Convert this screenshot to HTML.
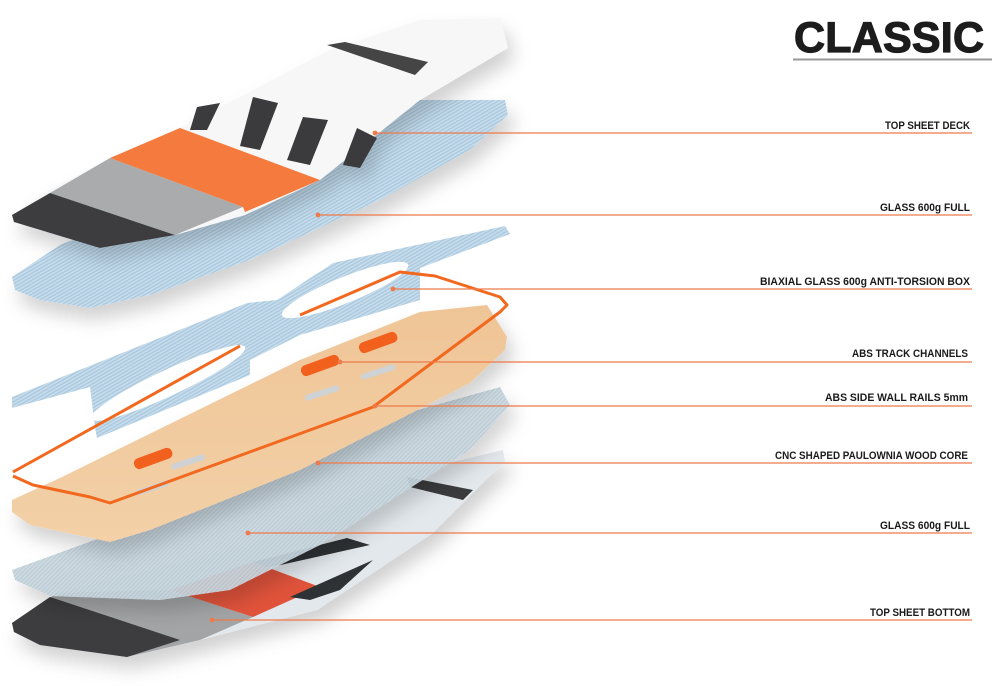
<!DOCTYPE html>
<html><head><meta charset="utf-8"><style>
body{margin:0;background:#fff;width:992px;height:688px;overflow:hidden;font-family:"Liberation Sans",sans-serif}
svg{position:absolute;left:0;top:0}
.l{font-family:"Liberation Sans Narrow","Liberation Sans",sans-serif;font-weight:bold;font-size:11px;fill:#1a1a1a}
</style></head><body>
<svg width="992" height="688" viewBox="0 0 992 688">
<defs>
<pattern id="hb" width="3" height="3" patternUnits="userSpaceOnUse" patternTransform="rotate(60)"><rect width="3" height="3" fill="#c6dceb"/><rect width="1.2" height="3" fill="#a8c7de"/></pattern>
<pattern id="hg" width="3" height="3" patternUnits="userSpaceOnUse" patternTransform="rotate(45)"><rect width="3" height="3" fill="#cad8e0"/><rect width="1.2" height="3" fill="#b8c8d2"/></pattern>
<linearGradient id="wd" x1="0" y1="0" x2="0" y2="1"><stop offset="0" stop-color="#efc597"/><stop offset="1" stop-color="#f3d0a7"/></linearGradient>
<filter id="sh" x="-10%" y="-10%" width="120%" height="140%"><feDropShadow dx="6" dy="12" stdDeviation="9" flood-color="#000" flood-opacity="0.18"/></filter>
</defs>
<!-- bottom board -->
<g filter="url(#sh)">
<polygon points="12,623 57,593 250,545 420,470 503,450 505,462 493,473 433,533 317,610 200,640 127,657 40,645 14,632" fill="#e2e8ec"/>
<polygon points="12,623 57,593 170,590 253,617 200,640 127,657 40,645 14,632" fill="#a2a4a6"/>
<polygon points="12,623 50,597 180,640 127,657 40,645 14,632" fill="#3c3d3f"/>
<polygon points="170,590 253,562 320,587 253,617" fill="#e0533a"/>
<polygon points="253,562 347,538 370,545 267,568" fill="#2e3236"/>
<polygon points="290,597 373,560 340,590 310,600" fill="#2e3236"/>
<polygon points="407,477 473,490 463,500 410,487" fill="#3a3b3d"/>
</g>
<!-- bottom glass -->
<g filter="url(#sh)">
<polygon points="12,570 150,520 400,415 500,387 510,405 470,450 320,545 230,590 160,600 50,596 15,580" fill="url(#hg)" opacity="0.93"/>
</g>
<!-- biaxial X -->
<g>
<polygon points="12,397 247,303 277,300 333,263 505,226 510,234 420,268 420,300 300,335 250,360 250,375 97,438 95,428 90,387 12,408" fill="url(#hb)"/>
<ellipse cx="168" cy="383" rx="85" ry="13" fill="#fff" transform="rotate(-25 168 383)"/>
<ellipse cx="345" cy="290" rx="68" ry="13" fill="#fff" transform="rotate(-22 345 290)"/>
</g>
<!-- wood -->
<g filter="url(#sh)">
<polygon points="12,500 60,478 133,442 300,360 420,312 487,305 507,337 505,350 470,383 300,470 150,530 110,542 30,525 12,512" fill="url(#wd)"/>
</g>
<rect x="133" y="453" width="40" height="11" rx="5" fill="#f2601e" transform="rotate(-20 153 458)"/>
<rect x="300" y="360" width="40" height="11" rx="5" fill="#f2601e" transform="rotate(-20 320 365)"/>
<rect x="358" y="337" width="40" height="11" rx="5" fill="#f2601e" transform="rotate(-20 378 342)"/>
<rect x="170" y="459" width="36" height="6" rx="3" fill="#cfd2d4" transform="rotate(-18 188 462)"/>
<rect x="135" y="485" width="34" height="6" rx="3" fill="#cfd2d4" transform="rotate(-18 152 488)"/>
<rect x="304" y="390" width="36" height="6" rx="3" fill="#cfd2d4" transform="rotate(-18 322 393)"/>
<rect x="360" y="369" width="36" height="6" rx="3" fill="#cfd2d4" transform="rotate(-18 378 372)"/>
<!-- orange frame -->
<path d="M13,472 L240,346 M300,315 L400,272 L435,276 L500,297 L507,305 L500,312 L373,407 L110,503 L90,497 L33,485 L13,476" fill="none" stroke="#f2681e" stroke-width="3" stroke-linejoin="round"/>
<!-- top glass -->
<g filter="url(#sh)">
<polygon points="12,277 60,245 420,100 505,100 508,115 470,150 380,200 250,260 150,295 90,308 40,300 15,290" fill="url(#hb)"/>
</g>
<!-- deck -->
<g filter="url(#sh)">
<polygon points="12,215 40,195 110,158 180,128 330,50 420,20 500,18 508,48 420,100 320,180 245,215 175,235 100,248 80,240 40,230 14,222" fill="#f7f7f7"/>
<polygon points="50,193 110,158 243,207 175,235" fill="#a9abad"/>
<polygon points="12,215 50,193 175,235 100,248 14,222" fill="#3c3d3f"/>
<polygon points="110,158 180,128 320,180 245,212 243,207" fill="#f47a3e"/>
<polygon points="197,107 220,103 207,130 190,130" fill="#3a3b3d"/>
<polygon points="253,97 278,103 260,150 240,146" fill="#3a3b3d"/>
<polygon points="303,117 328,120 310,165 287,160" fill="#3a3b3d"/>
<polygon points="357,128 377,138 360,168 343,165" fill="#3a3b3d"/>
<polygon points="327,45 345,42 428,62 415,75" fill="#444"/>
</g>
<!-- leaders -->
<g stroke="#ee7a4a" stroke-width="1.2" fill="#ee7a4a">
<line x1="375" y1="133" x2="972" y2="133"/><circle cx="375" cy="133" r="1.8"/>
<line x1="318" y1="215" x2="972" y2="215"/><circle cx="318" cy="215" r="1.8"/>
<line x1="393" y1="289" x2="972" y2="289"/><circle cx="393" cy="289" r="1.8"/>
<line x1="340" y1="362" x2="972" y2="362"/><circle cx="340" cy="362" r="1.8"/>
<line x1="375" y1="406" x2="972" y2="406"/><circle cx="375" cy="406" r="1.8"/>
<line x1="318" y1="463" x2="972" y2="463"/><circle cx="318" cy="463" r="1.8"/>
<line x1="248" y1="533" x2="972" y2="533"/><circle cx="248" cy="533" r="1.8"/>
<line x1="212" y1="620" x2="972" y2="620"/><circle cx="212" cy="620" r="1.8"/>
</g>
<g>
<text class="l" x="885" y="129" textLength="85" lengthAdjust="spacingAndGlyphs">TOP SHEET DECK</text>
<text class="l" x="880" y="211" textLength="90" lengthAdjust="spacingAndGlyphs">GLASS 600g FULL</text>
<text class="l" x="760" y="285" textLength="210" lengthAdjust="spacingAndGlyphs">BIAXIAL GLASS 600g ANTI-TORSION BOX</text>
<text class="l" x="852" y="357" textLength="116" lengthAdjust="spacingAndGlyphs">ABS TRACK CHANNELS</text>
<text class="l" x="825" y="401" textLength="143" lengthAdjust="spacingAndGlyphs">ABS SIDE WALL RAILS 5mm</text>
<text class="l" x="775" y="459" textLength="193" lengthAdjust="spacingAndGlyphs">CNC SHAPED PAULOWNIA WOOD CORE</text>
<text class="l" x="880" y="529" textLength="90" lengthAdjust="spacingAndGlyphs">GLASS 600g FULL</text>
<text class="l" x="870" y="616" textLength="100" lengthAdjust="spacingAndGlyphs">TOP SHEET BOTTOM</text>
</g>
<text x="794" y="52" font-family="Liberation Sans" font-weight="bold" font-size="43" fill="#1c1c1c" stroke="#1c1c1c" stroke-width="1.2" textLength="190" lengthAdjust="spacing">CLASSIC</text>
<line x1="793" y1="59.5" x2="992" y2="59.5" stroke="#999" stroke-width="2"/>
</svg>
</body></html>
